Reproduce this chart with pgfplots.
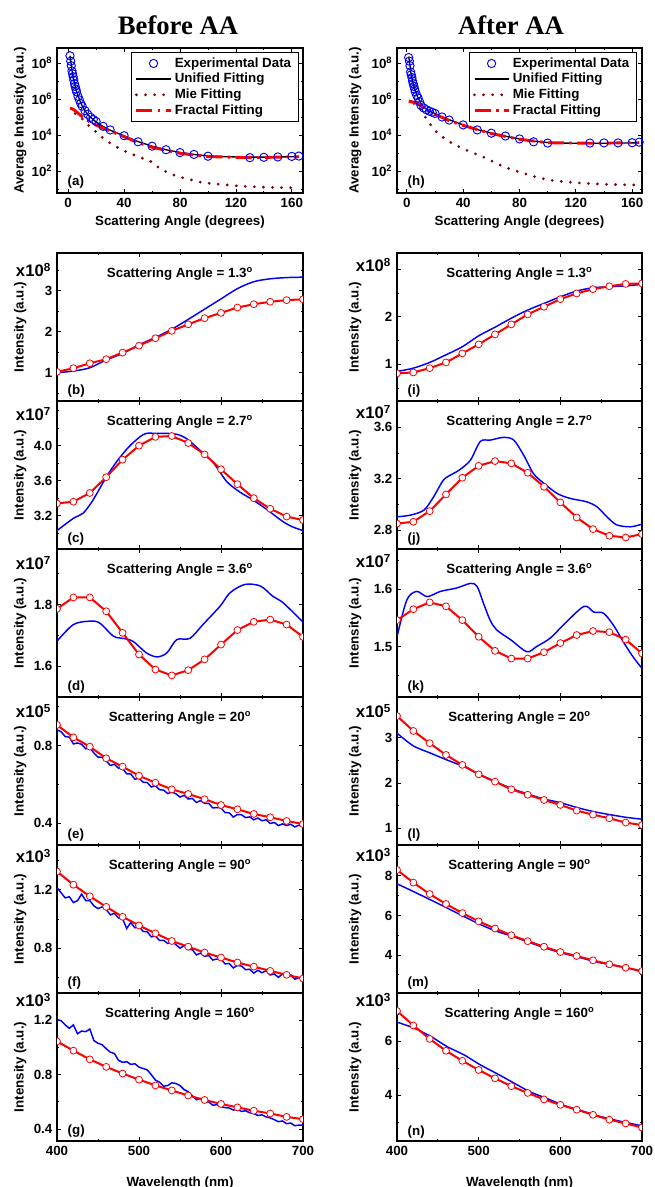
\documentclass[border=0pt]{standalone}
\usepackage{fontspec}
\setmainfont{Liberation Sans}
\newfontfamily\titlefont{Liberation Serif}
\usepackage{pgfplots}
\pgfplotsset{compat=1.18}
\definecolor{mie}{RGB}{130,0,10}
\newcommand{\fs}{\fontsize{10}{12}\selectfont\bfseries}
\pgfplotsset{
 mybaseax/.style={scale only axis, axis line style={line width=0.8pt}, tick style={black,line width=0.6pt},
   major tick length=3pt, minor tick length=1.8pt, tick label style={font=\fs}, label style={font=\fs},
   clip marker paths=true},
 mypanelL/.style={mybaseax, width=184.5pt, height=111pt, xmin=400, xmax=700, xtick={400,500,600,700}, minor xtick={450,550,650},
   xticklabels={}, ylabel={Intensity (a.u.)}, ylabel style={at={(axis description cs:-0.15,0.5)},anchor=center}},
 mypanelR/.style={mybaseax, width=183.75pt, height=111pt, xmin=400, xmax=700, xtick={400,500,600,700}, minor xtick={450,550,650},
   xticklabels={}, ylabel={Intensity (a.u.)}, ylabel style={at={(axis description cs:-0.171,0.5)},anchor=center}},
 mybl/.style={blue, line width=1.1pt, mark=none},
 myrd/.style={red, line width=1.5pt, mark=*, mark size=2.6pt, mark options={fill=white,draw=red,line width=0.6pt,solid}},
 myexpd/.style={only marks, mark=o, mark size=3.1pt, blue, mark options={line width=0.7pt}},
 myunif/.style={black, line width=1pt, mark=none},
 mymie/.style={mie, line width=2.3pt, line cap=round, dash pattern=on 0pt off 6.8pt, mark=none},
 myfrac/.style={red, line width=2.2pt, dash pattern=on 12pt off 4pt on 2pt off 4pt, mark=none},
}
\newcommand{\ann}[5]{%
 \node[font=\fontsize{12.5}{14}\selectfont\bfseries, anchor=base east, xshift=-1pt, yshift=-#5pt] at (#1.north west) {x10\textsuperscript{#2}};
 \node[font=\fs, anchor=base, yshift=-18.4pt] at (#1.north) {Scattering Angle = #3\textsuperscript{o}};
 \node[font=\fs, anchor=base west, xshift=4.5pt, yshift=4.5pt] at (#1.south west) {(#4)};
}
\begin{document}
\begin{tikzpicture}
\useasboundingbox (0,0) rectangle (491.25pt,890.25pt);
\node[font=\titlefont\bfseries\fontsize{20}{24}\selectfont] at (133.5pt,871.5pt) {Before AA};
\node[font=\titlefont\bfseries\fontsize{20}{24}\selectfont] at (383.25pt,871.5pt) {After AA};

% ---------- (a)
\begin{axis}[name=a, at={(42.75pt,854.25pt)}, anchor=north west, scale only axis, width=184.5pt, height=108.75pt,
  axis line style={line width=0.8pt}, tick style={black,line width=0.6pt},
  major tick length=3pt, minor tick length=1.8pt, tick label style={font=\fs}, label style={font=\fs},
  ymode=log, xmin=-8, xmax=168, ymin=6, ymax=6.8e8,
  xtick={0,40,80,120,160}, minor xtick={20,60,100,140}, xticklabels={0,40,80,120,160},
  ytick={1e2,1e4,1e6,1e8}, minor ytick={1e1,1e3,1e5,1e7},
  yticklabels={10\textsuperscript{2},10\textsuperscript{4},10\textsuperscript{6},10\textsuperscript{8}},
  xlabel={Scattering Angle (degrees)}, ylabel={Average Intensity (a.u.)},
  xlabel style={at={(axis description cs:0.5,0)},anchor=center,yshift=-21.75pt},
  ylabel style={at={(axis description cs:-0.15,0.5)},anchor=center},
  legend style={at={(0.98,0.972)},anchor=north east,draw=black,font=\fs,row sep=-1pt},
  legend cell align=left,
  legend image code/.code={\draw[mark repeat=2,mark phase=2,#1] plot coordinates {(0cm,0cm) (0.45cm,0cm) (0.9cm,0cm)};}]
\addplot[myexpd] coordinates {(1.3,2.51e8)(1.8,1.26e8)(2.2,7.08e7)(2.7,3.63e7)(3.1,2.51e7)(3.6,1.70e7)(4.0,1.12e7)(4.5,7.08e6)(5.0,5.01e6)(5.5,3.55e6)(6.0,2.51e6)(7,1.41e6)(8,8.91e5)(9,5.62e5)(10,3.98e5)(12,2.24e5)(14,1.41e5)(16,9.55e4)(18,7.24e4)(20,5.62e4)(25,3.02e4)(30,1.91e4)(40,9.12e3)(50,4.17e3)(60,2.40e3)(70,1.51e3)(80,1.05e3)(90,832)(100,661)(130,550)(140,575)(150,603)(160,646)(165,676)};
\addplot[myunif] coordinates {(1.3,2.51e8)(2,1.0e8)(3,2.82e7)(4,1.12e7)(5,5.25e6)(6,2.63e6)(8,9.55e5)(10,4.17e5)(12,2.24e5)(15,1.12e5)(20,5.25e4)(25,2.95e4)(30,1.86e4)(40,8.91e3)(50,4.27e3)(60,2.40e3)(70,1.51e3)(80,1.07e3)(90,832)(100,692)(110,631)(120,603)(130,589)(140,589)(150,603)(160,617)(165,631)};
\addplot[mymie] coordinates {(5,1.58e5)(10,7.94e4)(15,3.16e4)(20,1.48e4)(26,5.62e3)(33,2.51e3)(40,1.32e3)(50,631)(60,316)(66,126)(73,70.8)(79,47.9)(86,35.5)(93,25.1)(100,20.9)(110,17.8)(120,15.1)(130,13.5)(140,12.6)(150,12.0)(160,11.7)(165,11.7)};
\addplot[myfrac] coordinates {(1.3,3.16e5)(3,2.82e5)(5,2.24e5)(8,1.41e5)(10,1.05e5)(15,5.62e4)(20,3.55e4)(25,2.40e4)(30,1.66e4)(40,7.94e3)(50,3.80e3)(60,2.09e3)(80,955)(100,631)(130,550)(165,617)};
\legend{Experimental Data,Unified Fitting,Mie Fitting,Fractal Fitting}
\end{axis}
\node[font=\fs, anchor=base west, xshift=4.5pt, yshift=5.25pt] at (a.south west) {(a)};

% ---------- (h)
\begin{axis}[name=h, at={(297.75pt,854.25pt)}, anchor=north west, scale only axis, width=183.75pt, height=108.75pt,
  axis line style={line width=0.8pt}, tick style={black,line width=0.6pt},
  major tick length=3pt, minor tick length=1.8pt, tick label style={font=\fs}, label style={font=\fs},
  ymode=log, xmin=-7, xmax=167, ymin=6, ymax=6.8e8,
  xtick={0,40,80,120,160}, minor xtick={20,60,100,140}, xticklabels={0,40,80,120,160},
  ytick={1e2,1e4,1e6,1e8}, minor ytick={1e1,1e3,1e5,1e7},
  yticklabels={10\textsuperscript{2},10\textsuperscript{4},10\textsuperscript{6},10\textsuperscript{8}},
  xlabel={Scattering Angle (degrees)}, ylabel={Average Intensity (a.u.)},
  xlabel style={at={(axis description cs:0.5,0)},anchor=center,yshift=-21.75pt},
  ylabel style={at={(axis description cs:-0.171,0.5)},anchor=center},
  legend style={at={(0.976,0.972)},anchor=north east,draw=black,font=\fs,row sep=-1pt},
  legend cell align=left,
  legend image code/.code={\draw[mark repeat=2,mark phase=2,#1] plot coordinates {(0cm,0cm) (0.45cm,0cm) (0.9cm,0cm)};}]
\addplot[myexpd] coordinates {(1.3,2.0e8)(1.8,1.26e8)(2.2,7.08e7)(2.7,3.16e7)(3.1,2.24e7)(3.6,1.51e7)(4.0,1.0e7)(4.5,7.08e6)(5.0,5.01e6)(5.5,3.55e6)(6.0,2.51e6)(7,1.58e6)(8,1.12e6)(9,7.08e5)(10,4.47e5)(12,3.16e5)(14,2.51e5)(16,2.09e5)(18,1.82e5)(20,1.58e5)(25,1.0e5)(30,6.76e4)(40,3.63e4)(50,1.91e4)(60,1.26e4)(70,8.71e3)(80,6.03e3)(90,4.17e3)(100,3.55e3)(130,3.55e3)(140,3.63e3)(150,3.63e3)(160,3.72e3)(165,3.98e3)};
\addplot[myunif] coordinates {(1.3,2.24e8)(2,1.0e8)(3,2.51e7)(4,1.0e7)(5,5.25e6)(6,2.82e6)(8,1.12e6)(10,5.62e5)(12,3.55e5)(15,2.40e5)(20,1.51e5)(25,1.0e5)(30,7.08e4)(40,3.63e4)(50,2.0e4)(60,1.26e4)(70,8.51e3)(80,6.03e3)(90,4.57e3)(100,3.80e3)(110,3.55e3)(120,3.47e3)(130,3.47e3)(140,3.47e3)(150,3.55e3)(160,3.63e3)(165,3.72e3)};
\addplot[mymie] coordinates {(5,5.62e5)(10,2.51e5)(15,5.62e4)(21,1.48e4)(28,5.25e3)(35,2.63e3)(42,1.48e3)(49,871)(56,525)(63,282)(70,158)(75,115)(82,79.4)(89,52.5)(95,39.8)(105,28.2)(115,24.0)(125,20.9)(135,19.1)(145,17.8)(155,17.0)(165,16.6)};
\addplot[myfrac] coordinates {(1.3,7.59e5)(5,6.61e5)(8,5.25e5)(10,4.17e5)(15,2.24e5)(20,1.41e5)(30,6.31e4)(40,3.39e4)(60,1.20e4)(80,5.75e3)(100,3.72e3)(130,3.47e3)(165,3.72e3)};
\legend{Experimental Data,Unified Fitting,Mie Fitting,Fractal Fitting}
\end{axis}
\node[font=\fs, anchor=base west, xshift=4.5pt, yshift=5.25pt] at (h.south west) {(h)};

% ---------- (b)
\begin{axis}[mypanelL, name=b, at={(42.75pt,700.5pt)}, anchor=north west, ymin=0.31, ymax=3.92, ytick={1,2,3}, yticklabels={1,2,3}, minor ytick={0.5,1.5,2.5,3.5}]
\addplot[mybl, smooth] coordinates {(400,1.0)(420,1.04)(440,1.12)(460,1.31)(480,1.47)(500,1.68)(520,1.86)(540,2.06)(560,2.30)(580,2.55)(600,2.80)(620,3.05)(640,3.22)(660,3.29)(680,3.32)(700,3.33)};
\addplot[myrd] coordinates {(400,1.02)(420,1.11)(440,1.23)(460,1.33)(480,1.49)(500,1.66)(520,1.84)(540,2.02)(560,2.18)(580,2.33)(600,2.46)(620,2.59)(640,2.67)(660,2.73)(680,2.77)(700,2.79)};
\end{axis}
\ann{b}{8}{1.3}{b}{18}

% ---------- (c)
\begin{axis}[mypanelL, name=c, at={(42.75pt,589.5pt)}, anchor=north west, ymin=2.82, ymax=4.51, ytick={3.2,3.6,4.0}, yticklabels={3.2,3.6,4.0}, minor ytick={3.0,3.4,3.8,4.2,4.4}]
\addplot[mybl, smooth] coordinates {(400,3.03)(420,3.17)(432,3.23)(444,3.38)(460,3.64)(473,3.82)(487,3.98)(501,4.10)(509,4.14)(521,4.14)(533,4.14)(546,4.13)(558,4.08)(574,3.95)(591,3.80)(607,3.59)(623,3.47)(639,3.38)(656,3.27)(676,3.13)(688,3.07)(700,3.03)};
\addplot[myrd] coordinates {(400,3.34)(420,3.36)(440,3.46)(460,3.64)(480,3.84)(500,4.00)(520,4.10)(540,4.11)(560,4.03)(580,3.90)(600,3.73)(620,3.56)(640,3.40)(660,3.28)(680,3.19)(700,3.15)};
\end{axis}
\ann{c}{7}{2.7}{c}{15}

% ---------- (d)
\begin{axis}[mypanelL, name=d, at={(42.75pt,478.5pt)}, anchor=north west, ymin=1.50, ymax=1.98, ytick={1.6,1.8}, yticklabels={1.6,1.8}, minor ytick={1.5,1.7,1.9}]
\addplot[mybl, smooth] coordinates {(400,1.681)(420,1.735)(440,1.746)(452,1.74)(469,1.697)(481,1.69)(493,1.68)(509,1.643)(522,1.63)(534,1.643)(546,1.686)(562,1.69)(578,1.735)(599,1.795)(611,1.838)(629,1.865)(648,1.86)(663,1.827)(676,1.805)(700,1.743)};
\addplot[myrd] coordinates {(400,1.786)(420,1.823)(440,1.823)(460,1.778)(480,1.708)(500,1.638)(520,1.589)(540,1.570)(560,1.587)(580,1.622)(600,1.670)(620,1.717)(640,1.744)(660,1.751)(680,1.735)(700,1.695)};
\end{axis}
\ann{d}{7}{3.6}{d}{15.75}

% ---------- (e)
\begin{axis}[mypanelL, name=e, at={(42.75pt,367.5pt)}, anchor=north west, ymin=0.288, ymax=1.051, ytick={0.4,0.8}, yticklabels={0.4,0.8}, minor ytick={0.6,1.0}]
\addplot[mybl] coordinates {(400,.881)(405,.872)(410,.847)(415,.844)(420,.809)(425,.814)(430,.807)(435,.784)(440,.790)(445,.762)(450,.741)(455,.740)(460,.722)(465,.698)(470,.704)(475,.684)(480,.683)(485,.655)(490,.654)(495,.627)(500,.632)(505,.612)(510,.610)(515,.587)(520,.594)(525,.573)(530,.571)(535,.553)(540,.561)(545,.552)(550,.535)(555,.544)(560,.525)(565,.528)(570,.507)(575,.517)(580,.503)(585,.503)(590,.479)(595,.481)(600,.479)(605,.455)(610,.454)(615,.432)(620,.445)(625,.444)(630,.429)(635,.433)(640,.418)(645,.427)(650,.413)(655,.418)(660,.399)(665,.404)(670,.388)(675,.397)(680,.388)(685,.395)(690,.381)(695,.390)(700,.386)};
\addplot[myrd] coordinates {(400,.907)(420,.843)(440,.795)(460,.735)(480,.692)(500,.645)(520,.609)(540,.575)(560,.551)(580,.524)(600,.494)(620,.472)(640,.448)(660,.431)(680,.412)(700,.396)};
\end{axis}
\ann{e}{5}{20}{e}{15.75}

% ---------- (f)
\begin{axis}[mypanelL, name=f, at={(42.75pt,256.5pt)}, anchor=north west, ymin=0.495, ymax=1.505, ytick={0.8,1.2}, yticklabels={0.8,1.2}, minor ytick={0.6,1.0,1.4}]
\addplot[mybl] coordinates {(400,1.215)(405,1.179)(410,1.144)(415,1.152)(420,1.112)(425,1.125)(430,1.17)(435,1.126)(440,1.125)(445,1.09)(450,1.071)(455,1.083)(460,1.065)(465,1.028)(470,1.039)(475,1.007)(480,1.002)(485,.935)(490,.976)(495,.94)(500,.95)(505,.915)(510,.913)(515,.878)(520,.884)(525,.854)(530,.855)(535,.833)(540,.844)(545,.825)(550,.801)(555,.818)(560,.792)(565,.791)(570,.755)(575,.767)(580,.745)(585,.751)(590,.72)(595,.727)(600,.726)(605,.694)(610,.696)(615,.666)(620,.683)(625,.679)(630,.654)(635,.657)(640,.631)(645,.65)(650,.633)(655,.647)(660,.618)(665,.625)(670,.602)(675,.625)(680,.615)(685,.619)(690,.589)(695,.60)(700,.59)};
\addplot[myrd] coordinates {(400,1.324)(420,1.234)(440,1.155)(460,1.083)(480,1.015)(500,.956)(520,.902)(540,.850)(560,.811)(580,.771)(600,.737)(620,.703)(640,.675)(660,.646)(680,.619)(700,.594)};
\end{axis}
\ann{f}{3}{90}{f}{13.5}

% ---------- (g)
\begin{axis}[mypanelL, name=g, at={(42.75pt,145.5pt)}, anchor=north west, ymin=0.313, ymax=1.399, ytick={0.4,0.8,1.2}, yticklabels={0.4,0.8,1.2}, minor ytick={0.6,1.0},
  xticklabels={400,500,600,700}, xlabel={Wavelength (nm)}, xlabel style={at={(axis description cs:0.5,0)},anchor=center,yshift=-31.5pt}]
\addplot[mybl] coordinates {(400,1.205)(405,1.195)(410,1.165)(415,1.14)(420,1.165)(425,1.10)(430,1.12)(435,1.115)(440,1.135)(445,1.05)(450,1.03)(455,1.02)(460,0.99)(465,0.965)(470,0.955)(475,0.905)(480,0.89)(485,0.895)(490,0.875)(495,0.88)(500,0.855)(505,0.845)(510,0.835)(515,0.80)(520,0.76)(525,0.745)(530,0.715)(535,0.72)(540,0.74)(545,0.735)(550,0.72)(555,0.69)(560,0.675)(565,0.645)(570,0.615)(575,0.625)(580,0.605)(585,0.60)(590,0.575)(595,0.58)(600,0.565)(605,0.558)(610,0.555)(615,0.54)(620,0.545)(625,0.53)(630,0.535)(635,0.52)(640,0.515)(645,0.50)(650,0.505)(655,0.49)(660,0.482)(665,0.47)(670,0.455)(675,0.46)(680,0.44)(685,0.445)(690,0.425)(695,0.43)(700,0.43)};
\addplot[myrd] coordinates {(400,1.044)(420,.976)(440,.912)(460,.857)(480,.808)(500,.763)(520,.721)(540,.684)(560,.647)(580,.614)(600,.585)(620,.560)(640,.535)(660,.515)(680,.490)(700,.473)};
\end{axis}
\ann{g}{3}{160}{g}{10.5}

% ---------- (i)
\begin{axis}[mypanelR, name=i, at={(297.75pt,700.5pt)}, anchor=north west, ymin=0.23, ymax=3.34, ytick={1,2,3}, yticklabels={1,2,{}}, minor ytick={0.5,1.5,2.5}]
\addplot[mybl, smooth] coordinates {(400,.85)(420,.92)(440,1.04)(460,1.20)(480,1.37)(500,1.60)(520,1.78)(540,1.97)(560,2.14)(580,2.28)(600,2.42)(620,2.54)(640,2.61)(660,2.63)(680,2.65)(700,2.68)};
\addplot[myrd] coordinates {(400,.81)(420,.83)(440,.92)(460,1.04)(480,1.23)(500,1.42)(520,1.63)(540,1.84)(560,2.05)(580,2.21)(600,2.37)(620,2.49)(640,2.58)(660,2.64)(680,2.69)(700,2.70)};
\end{axis}
\ann{i}{8}{1.3}{i}{14.25}

% ---------- (j)
\begin{axis}[mypanelR, name=j, at={(297.75pt,589.5pt)}, anchor=north west, ymin=2.652, ymax=3.805, ytick={2.8,3.2,3.6}, yticklabels={2.8,3.2,3.6}, minor ytick={3.0,3.4}]
\addplot[mybl, smooth] coordinates {(400,2.903)(416,2.915)(433,2.955)(445,3.06)(457,3.19)(469,3.24)(477,3.27)(490,3.345)(502,3.49)(514,3.50)(531,3.522)(543,3.50)(555,3.384)(567,3.24)(579,3.168)(596,3.085)(612,3.046)(632,3.02)(645,2.98)(657,2.903)(669,2.84)(686,2.825)(700,2.846)};
\addplot[myrd] coordinates {(400,2.85)(420,2.864)(440,2.947)(460,3.077)(480,3.207)(500,3.30)(520,3.337)(540,3.319)(560,3.246)(580,3.137)(600,3.015)(620,2.898)(640,2.807)(660,2.755)(680,2.742)(700,2.768)};
\end{axis}
\ann{j}{7}{2.7}{j}{13.5}

% ---------- (k)
\begin{axis}[mypanelR, name=k, at={(297.75pt,478.5pt)}, anchor=north west, ymin=1.412, ymax=1.670, ytick={1.5,1.6}, yticklabels={1.5,1.6}, minor ytick={1.45,1.55,1.65}]
\addplot[mybl, smooth] coordinates {(400,1.517)(412,1.581)(424,1.596)(437,1.587)(453,1.596)(473,1.602)(490,1.61)(498,1.605)(506,1.575)(514,1.546)(522,1.529)(539,1.512)(559,1.491)(571,1.50)(588,1.515)(604,1.538)(629,1.57)(641,1.56)(653,1.558)(666,1.535)(678,1.506)(690,1.48)(700,1.462)};
\addplot[myrd] coordinates {(400,1.546)(420,1.565)(440,1.577)(460,1.570)(480,1.546)(500,1.517)(520,1.4925)(540,1.479)(560,1.479)(580,1.490)(600,1.506)(620,1.520)(640,1.527)(660,1.525)(680,1.512)(700,1.488)};
\end{axis}
\ann{k}{7}{3.6}{k}{14.25}

% ---------- (l)
\begin{axis}[mypanelR, name=l, at={(297.75pt,367.5pt)}, anchor=north west, ymin=0.63, ymax=3.90, ytick={1,2,3}, yticklabels={1,2,3}, minor ytick={1.5,2.5,3.5}]
\addplot[mybl, smooth] coordinates {(400,3.10)(420,2.82)(441,2.66)(461,2.51)(482,2.36)(502,2.18)(523,2.01)(543,1.86)(563,1.74)(579,1.65)(600,1.565)(620,1.46)(640,1.37)(661,1.30)(681,1.24)(700,1.20)};
\addplot[myrd] coordinates {(400,3.48)(420,3.15)(440,2.88)(460,2.62)(480,2.40)(500,2.19)(520,2.03)(540,1.86)(560,1.74)(580,1.625)(600,1.515)(620,1.39)(640,1.30)(660,1.22)(680,1.125)(700,1.07)};
\end{axis}
\ann{l}{5}{20}{l}{15.75}

% ---------- (m)
\begin{axis}[mypanelR, name=m, at={(297.75pt,256.5pt)}, anchor=north west, ymin=2.08, ymax=9.56, ytick={4,6,8}, yticklabels={4,6,8}, minor ytick={3,5,7,9}]
\addplot[mybl, smooth] coordinates {(400,7.60)(420,7.21)(441,6.79)(461,6.38)(482,5.95)(502,5.54)(522,5.20)(543,4.92)(563,4.62)(584,4.32)(604,4.08)(625,3.86)(645,3.64)(666,3.48)(686,3.31)(700,3.14)};
\addplot[myrd] coordinates {(400,8.30)(420,7.66)(440,7.08)(460,6.58)(480,6.12)(500,5.70)(520,5.34)(540,5.0)(560,4.70)(580,4.42)(600,4.15)(620,3.95)(640,3.73)(660,3.53)(680,3.36)(700,3.19)};
\end{axis}
\ann{m}{3}{90}{m}{12.75}

% ---------- (n)
\begin{axis}[mypanelR, name=n, at={(297.75pt,145.5pt)}, anchor=north west, ymin=2.31, ymax=7.79, ytick={4,6}, yticklabels={4,6}, minor ytick={3,5,7},
  xticklabels={400,500,600,700}, xlabel={Wavelength (nm)}, xlabel style={at={(axis description cs:0.5,0)},anchor=center,yshift=-31.5pt}]
\addplot[mybl, smooth] coordinates {(400,6.71)(420,6.50)(441,6.19)(461,5.81)(482,5.50)(502,5.13)(522,4.81)(543,4.46)(563,4.13)(584,3.88)(604,3.63)(625,3.44)(645,3.25)(666,3.09)(686,2.96)(700,2.87)};
\addplot[myrd] coordinates {(400,7.125)(420,6.59)(440,6.09)(460,5.65)(480,5.28)(500,4.94)(520,4.63)(540,4.34)(560,4.09)(580,3.85)(600,3.65)(620,3.47)(640,3.28)(660,3.10)(680,2.96)(700,2.81)};
\end{axis}
\ann{n}{3}{160}{n}{10.5}
\end{tikzpicture}
\end{document}
